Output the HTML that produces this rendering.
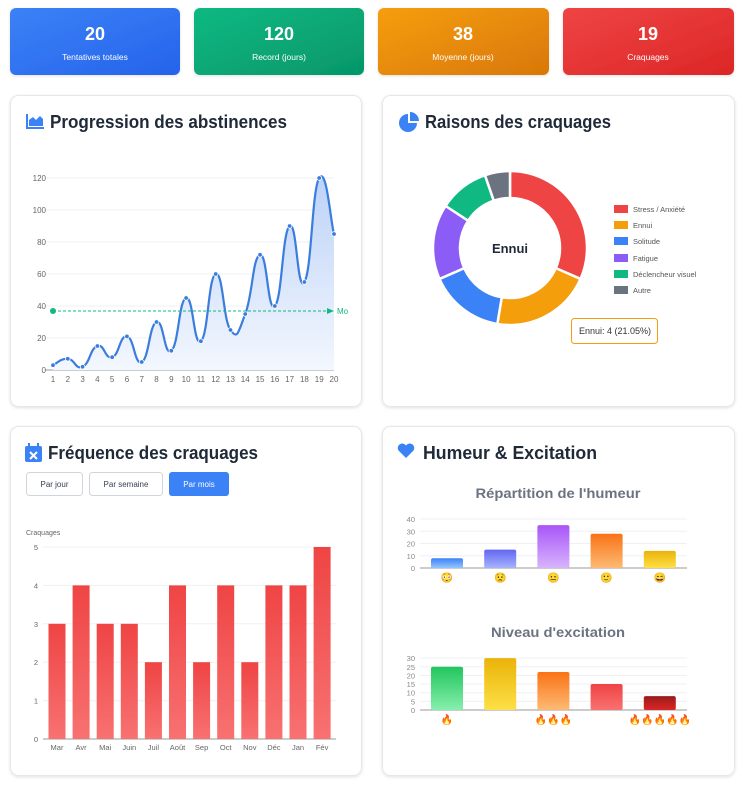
<!DOCTYPE html>
<html><head><meta charset="utf-8"><style>
body{margin:0;background:#fff;width:745px;height:783px;overflow:hidden;font-family:"Liberation Sans",sans-serif}
</style></head><body>
<svg id="s" width="745" height="783" xmlns="http://www.w3.org/2000/svg" font-family="Liberation Sans, sans-serif">
<defs>
<linearGradient id="gb" x1="0" y1="0" x2="1" y2="1"><stop offset="0" stop-color="#3b82f6"/><stop offset="1" stop-color="#2563eb"/></linearGradient>
<linearGradient id="gg" x1="0" y1="0" x2="1" y2="1"><stop offset="0" stop-color="#10b981"/><stop offset="1" stop-color="#059669"/></linearGradient>
<linearGradient id="go" x1="0" y1="0" x2="1" y2="1"><stop offset="0" stop-color="#f59e0b"/><stop offset="1" stop-color="#d97706"/></linearGradient>
<linearGradient id="gr" x1="0" y1="0" x2="1" y2="1"><stop offset="0" stop-color="#ef4444"/><stop offset="1" stop-color="#dc2626"/></linearGradient>
<linearGradient id="area" x1="0" y1="0" x2="0" y2="1"><stop offset="0" stop-color="#bcd2f7"/><stop offset="1" stop-color="#f3f7fe"/></linearGradient>
<linearGradient id="rb" x1="0" y1="0" x2="0" y2="1"><stop offset="0" stop-color="#ef4444"/><stop offset="1" stop-color="#f87171"/></linearGradient>
<linearGradient id="m1" x1="0" y1="0" x2="0" y2="1"><stop offset="0" stop-color="#3b82f6"/><stop offset="1" stop-color="#93c5fd"/></linearGradient>
<linearGradient id="m2" x1="0" y1="0" x2="0" y2="1"><stop offset="0" stop-color="#6366f1"/><stop offset="1" stop-color="#a5b4fc"/></linearGradient>
<linearGradient id="m3" x1="0" y1="0" x2="0" y2="1"><stop offset="0" stop-color="#a855f7"/><stop offset="1" stop-color="#d8b4fe"/></linearGradient>
<linearGradient id="m4" x1="0" y1="0" x2="0" y2="1"><stop offset="0" stop-color="#f97316"/><stop offset="1" stop-color="#fdba74"/></linearGradient>
<linearGradient id="m5" x1="0" y1="0" x2="0" y2="1"><stop offset="0" stop-color="#eab308"/><stop offset="1" stop-color="#fde047"/></linearGradient>
<linearGradient id="e1" x1="0" y1="0" x2="0" y2="1"><stop offset="0" stop-color="#22c55e"/><stop offset="1" stop-color="#86efac"/></linearGradient>
<linearGradient id="e2" x1="0" y1="0" x2="0" y2="1"><stop offset="0" stop-color="#eab308"/><stop offset="1" stop-color="#fde047"/></linearGradient>
<linearGradient id="e3" x1="0" y1="0" x2="0" y2="1"><stop offset="0" stop-color="#f97316"/><stop offset="1" stop-color="#fdba74"/></linearGradient>
<linearGradient id="e4" x1="0" y1="0" x2="0" y2="1"><stop offset="0" stop-color="#ef4444"/><stop offset="1" stop-color="#f87171"/></linearGradient>
<linearGradient id="e5" x1="0" y1="0" x2="0" y2="1"><stop offset="0" stop-color="#991b1b"/><stop offset="1" stop-color="#dc2626"/></linearGradient>
<filter id="sh" x="-5%" y="-5%" width="110%" height="110%"><feDropShadow dx="0" dy="1" stdDeviation="1.5" flood-opacity="0.12"/></filter>
</defs>
<g filter="url(#sh)">
<rect x="10" y="8" width="170" height="67" rx="6" fill="url(#gb)"/>
<rect x="194" y="8" width="170" height="67" rx="6" fill="url(#gg)"/>
<rect x="378" y="8" width="171" height="67" rx="6" fill="url(#go)"/>
<rect x="563" y="8" width="171" height="67" rx="6" fill="url(#gr)"/>
</g>
<g fill="#fff" text-anchor="middle">
<text x="95" y="40" font-size="18" font-weight="bold">20</text><text x="95" y="60" font-size="8.5">Tentatives totales</text>
<text x="279" y="40" font-size="18" font-weight="bold">120</text><text x="279" y="60" font-size="8.5">Record (jours)</text>
<text x="463" y="40" font-size="18" font-weight="bold">38</text><text x="463" y="60" font-size="8.5">Moyenne (jours)</text>
<text x="648" y="40" font-size="18" font-weight="bold">19</text><text x="648" y="60" font-size="8.5">Craquages</text>
</g>
<g fill="#fff" stroke="#e5e7eb" filter="url(#sh)">
<rect x="10.5" y="95.5" width="351" height="311" rx="8"/>
<rect x="382.5" y="95.5" width="352" height="311" rx="8"/>
<rect x="10.5" y="426.5" width="351" height="349" rx="8"/>
<rect x="382.5" y="426.5" width="352" height="349" rx="8"/>
</g>
<g fill="#1f2937" font-size="18" font-weight="bold">
<text x="50" y="128" textLength="237" lengthAdjust="spacingAndGlyphs">Progression des abstinences</text>
<text x="425" y="128" textLength="186" lengthAdjust="spacingAndGlyphs">Raisons des craquages</text>
<text x="48" y="459" textLength="210" lengthAdjust="spacingAndGlyphs">Fréquence des craquages</text>
<text x="423" y="459" textLength="174" lengthAdjust="spacingAndGlyphs">Humeur &amp; Excitation</text>
</g>
<path d="M26 114v15h18v-2H28v-13z M29 126v-6l4-3 3 3 4-4 3 3v7z" fill="#3b82f6"/>
<path d="M408 114a9 9 0 1 0 9 9h-9z M410 112v9h9a9 9 0 0 0-9-9z" fill="#3b82f6"/>
<rect x="25" y="446" width="17" height="16" rx="2" fill="#3b82f6"/><rect x="28" y="443" width="2" height="5" fill="#3b82f6"/><rect x="37" y="443" width="2" height="5" fill="#3b82f6"/><path d="M30 452l7 7M37 452l-7 7" stroke="#fff" stroke-width="2"/>
<path d="M406 458l-7.5-7.5a4.5 4.5 0 0 1 7.5-5 4.5 4.5 0 0 1 7.5 5z" fill="#3b82f6"/>
<g id="lc" font-size="8" fill="#666"></g>
<g id="dn"></g>
<text x="510" y="253" font-size="13" font-weight="bold" text-anchor="middle" fill="#1f2937">Ennui</text>
<g font-size="7.5" fill="#555">
<rect x="614" y="205" width="14" height="8" fill="#ef4444"/><text x="633" y="212">Stress / Anxiété</text>
<rect x="614" y="221" width="14" height="8" fill="#f59e0b"/><text x="633" y="228">Ennui</text>
<rect x="614" y="237" width="14" height="8" fill="#3b82f6"/><text x="633" y="244">Solitude</text>
<rect x="614" y="254" width="14" height="8" fill="#8b5cf6"/><text x="633" y="261">Fatigue</text>
<rect x="614" y="270" width="14" height="8" fill="#10b981"/><text x="633" y="277">Déclencheur visuel</text>
<rect x="614" y="286" width="14" height="8" fill="#6b7280"/><text x="633" y="293">Autre</text>
</g>
<rect x="571.5" y="318.5" width="86" height="25" rx="3" fill="#fff" stroke="#f59e0b"/>
<text x="579" y="334" font-size="9" fill="#333">Ennui: 4 (21.05%)</text>
<rect x="26.5" y="472.5" width="56" height="23" rx="3" fill="#fff" stroke="#d1d5db"/><text x="54.5" y="487" font-size="8" text-anchor="middle" fill="#374151">Par jour</text>
<rect x="89.5" y="472.5" width="73" height="23" rx="3" fill="#fff" stroke="#d1d5db"/><text x="126" y="487" font-size="8" text-anchor="middle" fill="#374151">Par semaine</text>
<rect x="169" y="472" width="60" height="24" rx="3" fill="#3b82f6"/><text x="199" y="487" font-size="8" text-anchor="middle" fill="#fff">Par mois</text>
<text x="26" y="535" font-size="7" fill="#666">Craquages</text>
<g id="bc" font-size="7.5" fill="#666"></g>
<text x="558" y="498" font-size="14" font-weight="bold" text-anchor="middle" fill="#6b7280" textLength="165" lengthAdjust="spacingAndGlyphs">Répartition de l'humeur</text>
<text x="558" y="637" font-size="14" font-weight="bold" text-anchor="middle" fill="#6b7280" textLength="134" lengthAdjust="spacingAndGlyphs">Niveau d'excitation</text>
<g id="mc" font-size="7.5" fill="#888"></g>
</svg>
<script>
var NS="http://www.w3.org/2000/svg";
function el(p,t,a,txt){var e=document.createElementNS(NS,t);for(var k in a)e.setAttribute(k,a[k]);if(txt!=null)e.textContent=txt;p.appendChild(e);return e;}
var lc=document.getElementById('lc');
var v=[3,7,2,15,8,21,5,30,12,45,18,60,25,35,72,40,90,55,120,85];
var X=function(i){return 53+i*(281/19)},Y=function(d){return 370-d*1.6};
for(var t=0;t<=120;t+=20){el(lc,'line',{x1:45,x2:334,y1:Y(t),y2:Y(t),stroke:t?'#eef0f3':'#999','stroke-width':1});el(lc,'text',{x:46,y:Y(t)+3,'text-anchor':'end'},t);}
for(var i=0;i<20;i++){el(lc,'text',{x:X(i),y:382,'text-anchor':'middle'},i+1);}
var p=[];for(i=0;i<20;i++)p.push([X(i),Y(v[i])]);
var d="M"+p[0][0]+","+p[0][1];
for(i=0;i<19;i++){var p0=p[Math.max(i-1,0)],p1=p[i],p2=p[i+1],p3=p[Math.min(i+2,19)];var k=0.25;
d+=" C"+(p1[0]+(p2[0]-p0[0])*k)+","+(p1[1]+(p2[1]-p0[1])*k)+" "+(p2[0]-(p3[0]-p1[0])*k)+","+(p2[1]-(p3[1]-p1[1])*k)+" "+p2[0]+","+p2[1];}
el(lc,'path',{d:d+" L"+p[19][0]+",370 L"+p[0][0]+",370Z",fill:'url(#area)'});
el(lc,'path',{d:d,fill:'none',stroke:'#3b7ddd','stroke-width':2.2});
for(i=0;i<20;i++)el(lc,'circle',{cx:p[i][0],cy:p[i][1],r:2.3,fill:'#3b7ddd',stroke:'#fff','stroke-width':0.8});
el(lc,'line',{x1:53,x2:330,y1:311,y2:311,stroke:'#10b981','stroke-dasharray':'3,2','stroke-width':1});
el(lc,'circle',{cx:53,cy:311,r:3,fill:'#10b981'});
el(lc,'path',{d:'M327,308 L334,311 L327,314z',fill:'#10b981'});
el(lc,'text',{x:337,y:314,fill:'#10b981'},'Mo');
var dn=document.getElementById('dn');var vals=[6,4,3,3,2,1],cols=['#ef4444','#f59e0b','#3b82f6','#8b5cf6','#10b981','#6b7280'];
var cx=510,cy=248,R=77,r=50,a=0;
vals.forEach(function(n,j){var a2=a+n/19*2*Math.PI;function pt(rr,an){return[cx+rr*Math.sin(an),cy-rr*Math.cos(an)]}
var A=pt(R,a),B=pt(R,a2),C=pt(r,a2),D=pt(r,a),lg=(a2-a)>Math.PI?1:0;
el(dn,'path',{d:"M"+A+" A"+R+","+R+" 0 "+lg+" 1 "+B+" L"+C+" A"+r+","+r+" 0 "+lg+" 0 "+D+"Z",fill:cols[j],stroke:'#fff','stroke-width':2.5,'stroke-linejoin':'round'});a=a2;});
var bc=document.getElementById('bc');var bv=[3,4,3,3,2,4,2,4,2,4,4,5],bm=['Mar','Avr','Mai','Juin','Juil','Août','Sep','Oct','Nov','Déc','Jan','Fév'];
for(t=0;t<=5;t++){var y=739-t*38.4;el(bc,'line',{x1:43,x2:336,y1:y,y2:y,stroke:t?'#eef0f3':'#999'});el(bc,'text',{x:38,y:y+3,'text-anchor':'end'},t);}
bv.forEach(function(n,j){var x=57+j*24.1;el(bc,'rect',{x:x-8.5,y:739-n*38.4,width:17,height:n*38.4,fill:'url(#rb)'});el(bc,'text',{x:x,y:750,'text-anchor':'middle'},bm[j]);});
var mc=document.getElementById('mc');
function small(base,max,step,unit,vals,grads,labels){for(var t=0;t<=max;t+=step){var y=base-t*unit;el(mc,'line',{x1:420,x2:687,y1:y,y2:y,stroke:t?'#eef0f3':'#999'});el(mc,'text',{x:415,y:y+3,'text-anchor':'end'},t);}
vals.forEach(function(n,j){var x=447+j*53.2;el(mc,'rect',{x:x-16,y:base-n*unit,width:32,height:n*unit,rx:2,fill:'url(#'+grads[j]+')'});el(mc,'text',{x:x,y:base+13,'text-anchor':'middle','font-size':10},labels[j]);});}
small(568,40,10,1.225,[8,15,35,28,14],['m1','m2','m3','m4','m5'],['😳','😟','😐','🙂','😄']);
small(710,30,5,1.73,[25,30,22,15,8],['e1','e2','e3','e4','e5'],['🔥','','🔥🔥🔥','','🔥🔥🔥🔥🔥']);
</script>
</body></html>
